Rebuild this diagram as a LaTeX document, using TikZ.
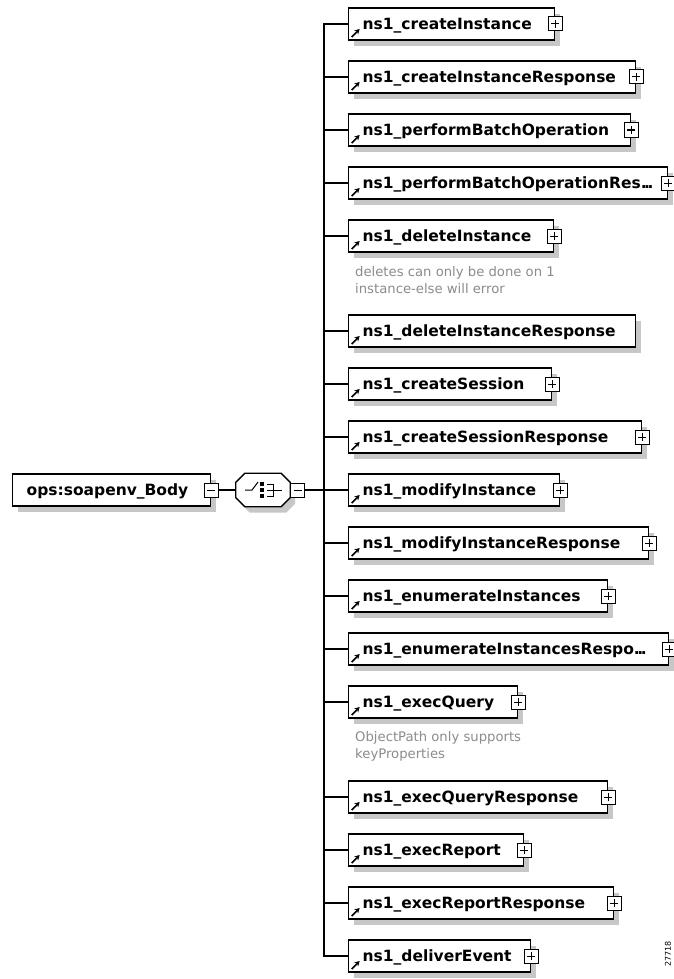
\documentclass[tikz,border=0pt]{standalone}
\usepackage{fontspec}
\setmainfont{DejaVu Sans}
\usetikzlibrary{shadows,arrows.meta}

\tikzset{
  elembox/.style={rectangle, draw=black, line width=1.3pt, fill=white, anchor=west,
    minimum height=32pt, inner xsep=14pt, inner ysep=0pt, text width=#1, align=left,
    text height=13pt, text depth=2pt,
    font=\fontsize{15.5}{18}\selectfont\bfseries,
    drop shadow={fill=black!22, opacity=1, shadow xshift=5pt, shadow yshift=-6pt}},
  refelem/.style={elembox=#1,
    path picture={\draw[line width=1.6pt, -{Stealth[length=5pt,width=5.5pt]}]
      ([shift={(3pt,3pt)}]path picture bounding box.south west) -- ++(8pt,8pt);}},
  pmbox/.style={rectangle, draw=black, line width=1pt, fill=white, minimum size=14pt, inner sep=0pt},
  minusbox/.style={pmbox,
    path picture={\draw[line width=1pt] ([xshift=-4pt]path picture bounding box.center) -- ([xshift=4pt]path picture bounding box.center);}},
  plusbox/.style={pmbox,
    path picture={\draw[line width=1pt] ([xshift=-4pt]path picture bounding box.center) -- ([xshift=4pt]path picture bounding box.center)
      ([yshift=-4pt]path picture bounding box.center) -- ([yshift=4pt]path picture bounding box.center);}},
  seqbox/.style={rectangle, minimum width=54pt, minimum height=33pt, inner sep=0pt},
  note/.style={anchor=north west, align=left, inner sep=0pt, text=black!45, font=\fontsize{13.2}{17}\selectfont},
  conn/.style={draw=black, line width=1.3pt}
}
\newcommand{\seqoctagon}{([xshift=9pt]seqBox.north west) -- ([xshift=-9pt]seqBox.north east) -- ([yshift=-9pt]seqBox.north east)
  -- ([yshift=9pt]seqBox.south east) -- ([xshift=-9pt]seqBox.south east) -- ([xshift=9pt]seqBox.south west)
  -- ([yshift=9pt]seqBox.south west) -- ([yshift=-9pt]seqBox.north west) -- cycle}
\newcommand{\trunc}{.\kern-2.5pt.\kern-2.5pt.}

\begin{document}
\begin{tikzpicture}[x=1pt, y=-1pt]
	\useasboundingbox[fill=white] (0,0) rectangle (674,979);

	% root element and sequence
	\node[elembox=170pt](bodyBox) at (12,490){ops:soapenv\_Body};
	\node[minusbox](bodyMinus) at (bodyBox.east){};
	\node[seqbox](seqBox) at (263,490){};
	\fill[black!22, transform canvas={xshift=5pt, yshift=-6pt}] \seqoctagon;
	\draw[conn, fill=white] \seqoctagon;
	\node[minusbox, anchor=west](seqMinus) at (seqBox.east){};
	\begin{scope}[shift={(seqBox.center)}, line width=1pt]
		\draw (-18,0) -- (-11,0) -- (-5,-8);
		\fill (-3,-8) rectangle (1,-4);
		\fill (-3,-2) rectangle (1,2);
		\fill (-3,4) rectangle (1,8);
		\draw (4,-6) -- (10,-6) -- (10,6) -- (4,6);
		\draw (4,0) -- (19,0);
	\end{scope}

	% child elements
	\node[refelem=178pt](createInstanceBox) at (348,24){ns1\_createInstance};
	\node[plusbox](createInstancePlus) at (createInstanceBox.east){};
	\node[refelem=259pt](createInstanceResponseBox) at (348,77){ns1\_createInstanceResponse};
	\node[plusbox](createInstanceResponsePlus) at (createInstanceResponseBox.east){};
	\node[refelem=254pt](performBatchOperationBox) at (348,130){ns1\_performBatchOperation};
	\node[plusbox](performBatchOperationPlus) at (performBatchOperationBox.east){};
	\node[refelem=291pt](performBatchOperationResBox) at (348,183){ns1\_performBatchOperationRes\trunc};
	\node[plusbox](performBatchOperationResPlus) at (performBatchOperationResBox.east){};
	\node[refelem=177pt](deleteInstanceBox) at (348,236){ns1\_deleteInstance};
	\node[plusbox](deleteInstancePlus) at (deleteInstanceBox.east){};
	\node[note](deleteNote) at (355,266){deletes can only be done on 1\\instance-else will error};
	\node[refelem=259pt](deleteInstanceResponseBox) at (348,331){ns1\_deleteInstanceResponse};
	\node[refelem=175pt](createSessionBox) at (348,384){ns1\_createSession};
	\node[plusbox](createSessionPlus) at (createSessionBox.east){};
	\node[refelem=265pt](createSessionResponseBox) at (348,437){ns1\_createSessionResponse};
	\node[plusbox](createSessionResponsePlus) at (createSessionResponseBox.east){};
	\node[refelem=183pt](modifyInstanceBox) at (348,490){ns1\_modifyInstance};
	\node[plusbox](modifyInstancePlus) at (modifyInstanceBox.east){};
	\node[refelem=272pt](modifyInstanceResponseBox) at (348,543){ns1\_modifyInstanceResponse};
	\node[plusbox](modifyInstanceResponsePlus) at (modifyInstanceResponseBox.east){};
	\node[refelem=231pt](enumerateInstancesBox) at (348,596){ns1\_enumerateInstances};
	\node[plusbox](enumerateInstancesPlus) at (enumerateInstancesBox.east){};
	\node[refelem=292pt](enumerateInstancesRespoBox) at (348,649){ns1\_enumerateInstancesRespo\trunc};
	\node[plusbox](enumerateInstancesRespoPlus) at (enumerateInstancesRespoBox.east){};
	\node[refelem=141pt](execQueryBox) at (348,702){ns1\_execQuery};
	\node[plusbox](execQueryPlus) at (execQueryBox.east){};
	\node[note](execQueryNote) at (355,731){ObjectPath only supports\\keyProperties};
	\node[refelem=231pt](execQueryResponseBox) at (348,797){ns1\_execQueryResponse};
	\node[plusbox](execQueryResponsePlus) at (execQueryResponseBox.east){};
	\node[refelem=147pt](execReportBox) at (348,850){ns1\_execReport};
	\node[plusbox](execReportPlus) at (execReportBox.east){};
	\node[refelem=237pt](execReportResponseBox) at (348,903){ns1\_execReportResponse};
	\node[plusbox](execReportResponsePlus) at (execReportResponseBox.east){};
	\node[refelem=154pt](deliverEventBox) at (348,956){ns1\_deliverEvent};
	\node[plusbox](deliverEventPlus) at (deliverEventBox.east){};

	\node[rotate=90, inner sep=0pt, font=\fontsize{8}{9}\selectfont](figureId) at (668,954){27718};

	% connectors
	\draw[conn] (bodyMinus) -- (seqBox);
	\draw[conn] (seqMinus) -- (modifyInstanceBox);
	\draw[conn] (createInstanceBox.west) -- ++(-24,0) |- (deliverEventBox.west);
	\draw[conn] (createInstanceResponseBox.west) -- ++(-24,0);
	\draw[conn] (performBatchOperationBox.west) -- ++(-24,0);
	\draw[conn] (performBatchOperationResBox.west) -- ++(-24,0);
	\draw[conn] (deleteInstanceBox.west) -- ++(-24,0);
	\draw[conn] (deleteInstanceResponseBox.west) -- ++(-24,0);
	\draw[conn] (createSessionBox.west) -- ++(-24,0);
	\draw[conn] (createSessionResponseBox.west) -- ++(-24,0);
	\draw[conn] (modifyInstanceResponseBox.west) -- ++(-24,0);
	\draw[conn] (enumerateInstancesBox.west) -- ++(-24,0);
	\draw[conn] (enumerateInstancesRespoBox.west) -- ++(-24,0);
	\draw[conn] (execQueryBox.west) -- ++(-24,0);
	\draw[conn] (execQueryResponseBox.west) -- ++(-24,0);
	\draw[conn] (execReportBox.west) -- ++(-24,0);
	\draw[conn] (execReportResponseBox.west) -- ++(-24,0);
\end{tikzpicture}
\end{document}
